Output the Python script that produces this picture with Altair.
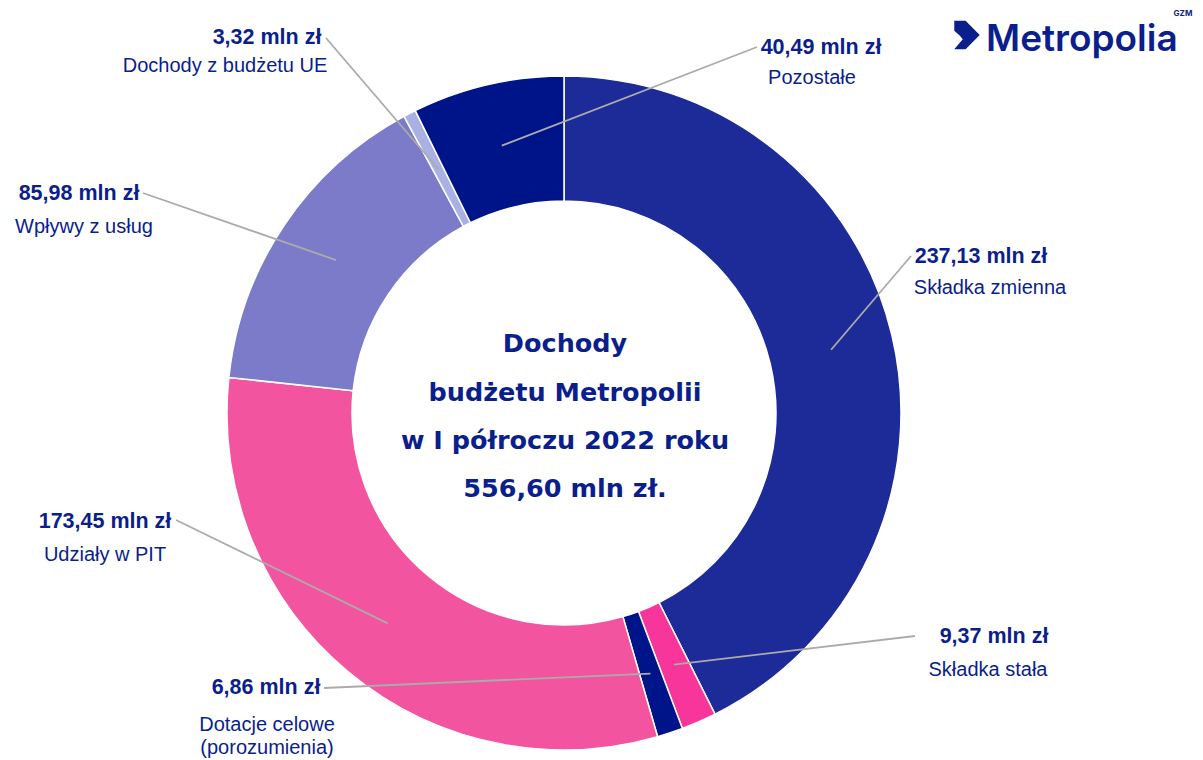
import math
import altair as alt
import pandas as pd

# ---------------- data ----------------
categories = ["Składka zmienna", "Składka stała", "Dotacje celowe (porozumienia)",
              "Udziały w PIT", "Wpływy z usług", "Dochody z budżetu UE", "Pozostałe"]
values = [237.13, 9.37, 6.86, 173.45, 85.98, 3.32, 40.49]
value_labels = ["237,13 mln zł", "9,37 mln zł", "6,86 mln zł", "173,45 mln zł",
                "85,98 mln zł", "3,32 mln zł", "40,49 mln zł"]
name_lines = [["Składka zmienna"], ["Składka stała"], ["Dotacje celowe", "(porozumienia)"],
              ["Udziały w PIT"], ["Wpływy z usług"], ["Dochody z budżetu UE"], ["Pozostałe"]]
slice_colors = ["#1C2B97", "#F7359B", "#001489", "#F2549F", "#7B7BC9", "#A9B0E3", "#001489"]
title_lines = ["Dochody", "budżetu Metropolii", "w I półroczu 2022 roku", "556,60 mln zł."]

# ---------------- layout (chart pixel space) ----------------
W, H = 1187, 752
CX, CY = 556, 405
R_OUT, R_IN = 337, 212
R_MID = (R_OUT + R_IN) / 2
NAVY = "#0A1E8C"
# per slice: value label centre, name label centre (first line), leader start
label_layout = [
    dict(vx=973, vy=249, nx=982, ny=280, lx=903, ly=248),   # Składka zmienna
    dict(vx=986, vy=629, nx=980, ny=662, lx=907, ly=628),   # Składka stała
    dict(vx=258, vy=680, nx=259, ny=717, lx=316, ly=680),   # Dotacje
    dict(vx=97, vy=514, nx=97, ny=547, lx=168, ly=512),     # PIT
    dict(vx=71, vy=186, nx=76, ny=219, lx=135, ly=185),     # Wpływy
    dict(vx=259, vy=30, nx=217, ny=58, lx=318, ly=30),      # UE
    dict(vx=813, vy=40, nx=804, ny=70, lx=749, ly=39),      # Pozostałe
]
LINE_GAP = 23

total = sum(values)
rows, vrows, nrows, lrows = [], [], [], []
cum = 0.0
for i, (c, v) in enumerate(zip(categories, values)):
    mid = (cum + v / 2) / total * 2 * math.pi
    cum += v
    rows.append(dict(idx=i, category=c, value=v))
    L = label_layout[i]
    ex = CX + R_MID * math.sin(mid)
    ey = CY - R_MID * math.cos(mid)
    lrows.append(dict(x=L["lx"], y=L["ly"], x2=ex, y2=ey))
    vrows.append(dict(x=L["vx"], y=L["vy"], t=value_labels[i]))
    for k, line in enumerate(name_lines[i]):
        nrows.append(dict(x=L["nx"], y=L["ny"] + k * LINE_GAP, t=line))

df = pd.DataFrame(rows)
df_lead = pd.DataFrame(lrows)
df_val = pd.DataFrame(vrows)
df_name = pd.DataFrame(nrows)
df_title = pd.DataFrame(dict(x=[CX + 1] * 4, y=[344, 393, 441, 489], t=title_lines))

xs = alt.Scale(domain=[0, W], range=[0, W], nice=False, zero=False)
ys = alt.Scale(domain=[0, H], range=[0, H], nice=False, zero=False)

def X(f="x"):
    return alt.X(f"{f}:Q", scale=xs, axis=None)

def Y(f="y"):
    return alt.Y(f"{f}:Q", scale=ys, axis=None)

donut = alt.Chart(df).mark_arc(
    outerRadius=R_OUT, innerRadius=R_IN, stroke="white", strokeWidth=1.5
).encode(
    theta=alt.Theta("value:Q", stack=True),
    order=alt.Order("idx:Q"),
    color=alt.Color("category:N", scale=alt.Scale(domain=categories, range=slice_colors), legend=None),
    x=alt.value(CX), y=alt.value(CY),
)

leaders = alt.Chart(df_lead).mark_rule(color="#ABABAB", strokeWidth=1.8).encode(
    x=X(), y=Y(), x2="x2:Q", y2="y2:Q"
)

vals = alt.Chart(df_val).mark_text(
    font="Liberation Sans", fontSize=21.5, fontWeight="bold", color=NAVY,
    align="center", baseline="middle"
).encode(x=X(), y=Y(), text="t:N")

names = alt.Chart(df_name).mark_text(
    font="Liberation Sans", fontSize=20, color=NAVY, align="center", baseline="middle"
).encode(x=X(), y=Y(), text="t:N")

title = alt.Chart(df_title).mark_text(
    font="DejaVu Sans", fontSize=25.5, fontWeight="bold", color=NAVY,
    align="center", baseline="alphabetic"
).encode(x=X(), y=Y(), text="t:N")

logo_df = pd.DataFrame(dict(x=[978], y=[43], t=["Metropolia"]))
logo = alt.Chart(logo_df).mark_text(
    font="Inter", fontSize=37, fontWeight=600, color=NAVY, align="left", baseline="alphabetic"
).encode(x=X(), y=Y(), text="t:N")
gzm_df = pd.DataFrame(dict(x=[1175], y=[6], t=["GZM"]))
gzm = alt.Chart(gzm_df).mark_text(
    font="Inter", fontSize=8, fontWeight="bold", color=NAVY, align="center", baseline="middle"
).encode(x=X(), y=Y(), text="t:N")
icon_df = pd.DataFrame(dict(x=[959], y=[27]))
icon = alt.Chart(icon_df).mark_point(
    shape="M -0.9 -1 L -0.1 -1 L 0.9 0 L -0.1 1 L -0.9 1 L -0.3 0.3 L -0.5 0.05 L -0.9 -0.3 Z",
    filled=True, color=NAVY, size=800, opacity=1, strokeWidth=0
).encode(x=X(), y=Y())

chart = alt.layer(donut, leaders, vals, names, title, logo, gzm, icon).properties(
    width=W, height=H, autosize=alt.AutoSizeParams(type="none"), padding=0
).configure_view(stroke=None)

chart.save("out.html", embed_options={"renderer": "svg", "actions": False})
